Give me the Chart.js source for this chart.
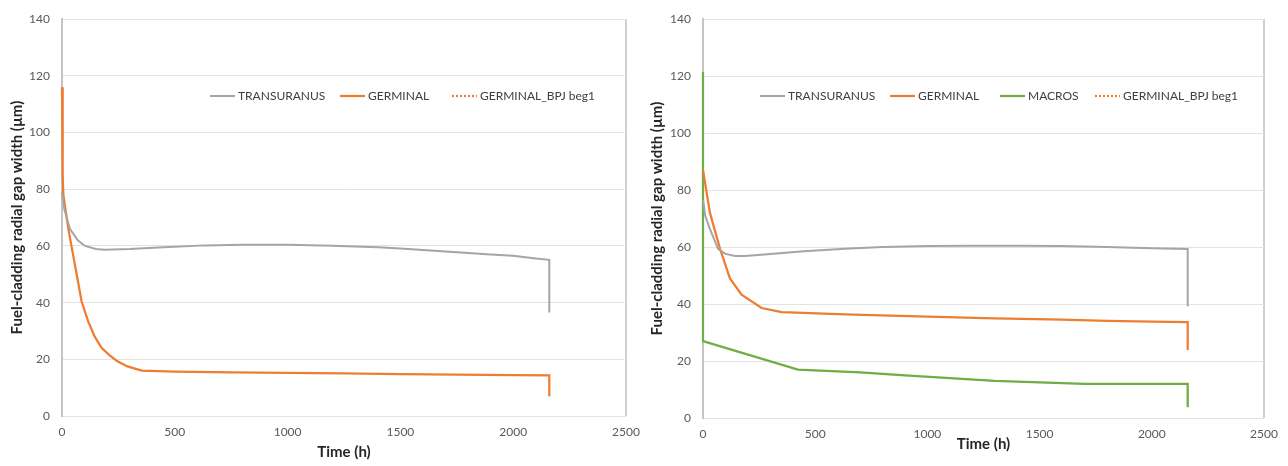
<!DOCTYPE html>
<html>
<head>
<meta charset="utf-8">
<script src="https://cdn.jsdelivr.net/npm/chart.js@4.4.0/dist/chart.umd.min.js"></script>
<style>
  html, body { margin: 0; padding: 0; background: #ffffff; }
  #wrap { width: 1288px; height: 466px; position: relative; }
  .box { position: absolute; top: 0; width: 644px; height: 466px; }
</style>
</head>
<body>
<div id="wrap">
  <div class="box" style="left:0"><canvas id="c1" width="644" height="466"></canvas></div>
  <div class="box" style="left:644px"><canvas id="c2" width="644" height="466"></canvas></div>
</div>
<script>
// ---------- DATA ----------
const xTicks = [0, 500, 1000, 1500, 2000, 2500];
const yTicks = [0, 20, 40, 60, 80, 100, 120, 140];

// Left panel
const leftTransT = [0, 10, 35, 70, 102, 150, 190, 300, 450, 634, 800, 1000, 1200, 1400, 1500, 1700, 1900, 2000, 2100, 2160, 2160];
const leftTransV = [79, 73, 66, 62, 60, 58.9, 58.7, 58.9, 59.5, 60.2, 60.4, 60.4, 60.1, 59.5, 59.1, 58, 57, 56.5, 55.6, 55.1, 36.5];
const leftGermT = [0, 3, 6, 28, 65, 87, 116, 145, 176, 210, 242, 290, 353, 500, 750, 1000, 1250, 1500, 1750, 2000, 2160, 2160];
const leftGermV = [116, 85, 78, 66, 50, 40.4, 33.4, 28, 24, 21.5, 19.5, 17.5, 16, 15.7, 15.4, 15.2, 15, 14.8, 14.6, 14.4, 14.3, 7.0];

// Right panel
const rightTransT = [0, 10, 31, 67, 100, 143, 187, 300, 450, 633, 800, 1000, 1200, 1400, 1600, 1800, 2000, 2160, 2160];
const rightTransV = [76.7, 71, 66.3, 59.4, 57.6, 56.9, 56.9, 57.6, 58.5, 59.4, 60, 60.4, 60.5, 60.5, 60.4, 60, 59.6, 59.3, 39.2];
const rightGermT = [0, 31, 76, 120, 172, 261, 351, 633, 1000, 1300, 1600, 1800, 2000, 2160, 2160];
const rightGermV = [87, 72, 59.4, 49, 43.3, 38.6, 37.2, 36.4, 35.6, 35, 34.5, 34.1, 33.8, 33.7, 23.9];
const rightMacT = [0, 0, 423, 700, 900, 1100, 1300, 1500, 1700, 2160, 2160];
const rightMacV = [121.5, 27, 17, 16, 15, 14, 13, 12.5, 12, 12, 3.8];

const seriesNames = ['TRANSURANUS', 'GERMINAL', 'MACROS', 'GERMINAL_BPJ beg1'];

// ---------- helpers ----------
const zip = (t, v) => t.map((x, i) => ({ x: x, y: v[i] }));
const FONT = 'Lato, "Open Sans", sans-serif';
const GRAY = '#a5a5a5', ORANGE = '#ed7d31', GREEN = '#70ad47';

function ds(label, data, color, dash) {
  return {
    label: label, data: data, borderColor: color, backgroundColor: color,
    borderWidth: label === 'TRANSURANUS' ? 2 : 2.25, borderDash: dash || [],
    pointRadius: 0, tension: 0, clip: false, fill: false
  };
}

const insideLegend = {
  id: 'insideLegend',
  afterDraw(chart, args, opts) {
    const ctx = chart.ctx;
    ctx.save();
    ctx.font = '12px ' + FONT;
    ctx.textBaseline = 'middle';
    ctx.textAlign = 'left';
    chart.data.datasets.forEach((d, i) => {
      const x = opts.xs[i], y = opts.y;
      ctx.strokeStyle = d.borderColor;
      ctx.lineWidth = d.borderWidth;
      ctx.setLineDash(d.borderDash && d.borderDash.length ? [2, 2] : []);
      ctx.beginPath(); ctx.moveTo(x, y); ctx.lineTo(x + 25, y); ctx.stroke();
      ctx.setLineDash([]);
      ctx.fillStyle = '#404040';
      ctx.fillText(d.label, x + 28, y + 0.5);
    });
    ctx.restore();
  }
};

function makeChart(id, datasets, cfg) {
  return new Chart(document.getElementById(id), {
    type: 'line',
    data: { datasets: datasets },
    plugins: [insideLegend],
    options: {
      responsive: false, animation: false, devicePixelRatio: 1,
      layout: { padding: { top: cfg.top, right: cfg.right, left: 0, bottom: 0 } },
      plugins: {
        legend: { display: false }, tooltip: { enabled: false },
        insideLegend: { xs: cfg.legendXs, y: 96 }
      },
      scales: {
        x: {
          type: 'linear', min: 0, max: 2500,
          afterBuildTicks: s => { s.ticks = xTicks.map(v => ({ value: v })); },
          grid: {
            drawTicks: false,
            color: c => (c.tick && c.tick.value === 2500) ? '#d0d0d0' : 'rgba(0,0,0,0)',
            lineWidth: 2
          },
          border: { display: false },
          ticks: { padding: 9, color: '#595959', font: { family: FONT, size: 12 }, maxRotation: 0,
                   callback: v => String(v) },
          title: { display: true, text: 'Time (h)', color: '#262626',
                   font: { family: FONT, size: 15, weight: 'bold' }, padding: { top: 0, bottom: cfg.xTitlePad } },
          afterFit: s => { s.height = cfg.xHeight; s.paddingLeft = 0; s.paddingRight = 0; }
        },
        y: {
          min: 0, max: 140,
          afterBuildTicks: s => { s.ticks = yTicks.map(v => ({ value: v })); },
          grid: { drawTicks: false, color: '#e3e3e3', lineWidth: 1 },
          border: { display: true, color: '#c4c4c4', width: 2 },
          ticks: { padding: 12, color: '#595959', font: { family: FONT, size: 12 }, callback: v => String(v) },
          title: { display: true, text: 'Fuel-cladding radial gap width (µm)', color: '#262626',
                   font: { family: FONT, size: 15, weight: 'bold' }, padding: { top: cfg.yTitlePad, bottom: 0 } },
          afterFit: s => { s.width = cfg.yWidth; }
        }
      }
    }
  });
}

makeChart('c1', [
  ds(seriesNames[0], zip(leftTransT, leftTransV), GRAY),
  ds(seriesNames[1], zip(leftGermT, leftGermV), ORANGE),
  ds(seriesNames[3], [], ORANGE, [2, 2])
], { top: 14, right: 18, yWidth: 62, xHeight: 50, xTitlePad: 5, yTitlePad: 8, legendXs: [210, 340, 452] });

makeChart('c2', [
  ds(seriesNames[0], zip(rightTransT, rightTransV), GRAY),
  ds(seriesNames[1], zip(rightGermT, rightGermV), ORANGE),
  ds(seriesNames[2], zip(rightMacT, rightMacV), GREEN),
  ds(seriesNames[3], [], ORANGE, [2, 2])
], { top: 14, right: 24, yWidth: 59, xHeight: 48, xTitlePad: 13, yTitlePad: 4, legendXs: [760 - 644, 890 - 644, 1000 - 644, 1095 - 644] });
</script>
</body>
</html>
